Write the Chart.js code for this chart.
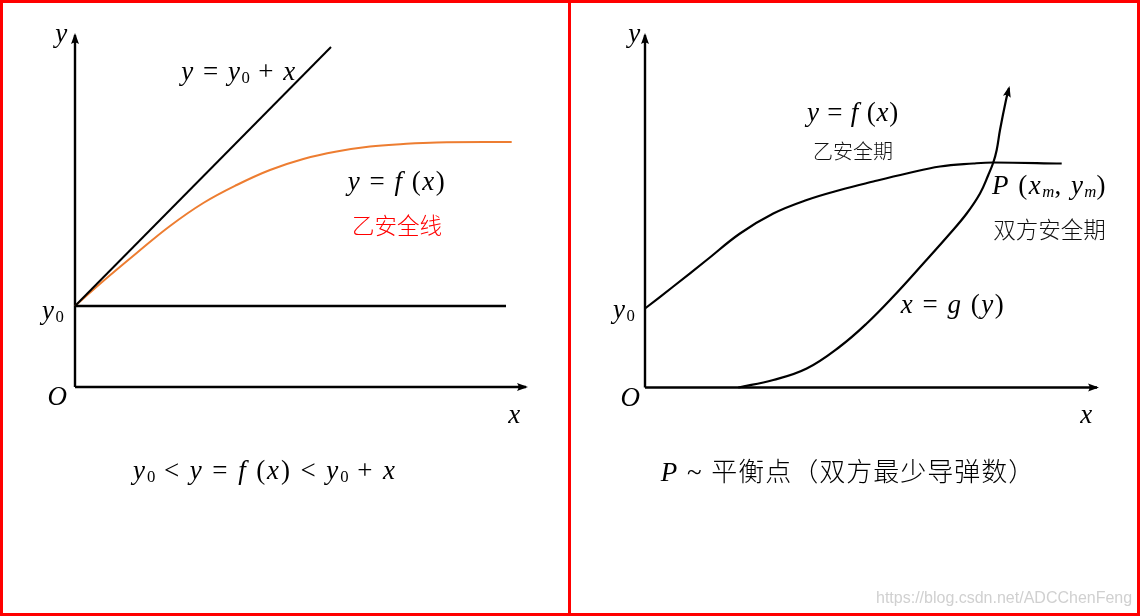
<!DOCTYPE html>
<html><head><meta charset="utf-8">
<script src="https://cdn.jsdelivr.net/npm/chart.js@4.4.1/dist/chart.umd.min.js"></script>
<style>
html,body{margin:0;padding:0;background:#fff;}
#frame{position:relative;width:1140px;height:616px;background:#fff;overflow:hidden;}
.bd{position:absolute;background:#ff0000;}
.panel{position:absolute;top:3px;height:610px;}
.panel canvas{position:absolute;left:0;top:0;}
.lbl{position:absolute;white-space:nowrap;line-height:1;transform:translate(-50%,-50%);color:#000;}
.m{font-family:"Liberation Serif","DejaVu Serif",serif;font-size:27px;letter-spacing:1.5px;}
.m i{font-style:italic;}
.m sub{font-size:62%;vertical-align:-0.22em;line-height:0;letter-spacing:0;}
.cn{font-family:"Noto Sans CJK SC","Noto Sans",sans-serif;font-weight:300;letter-spacing:0;}
#wm{position:absolute;left:876px;top:589px;font-family:"Liberation Sans",Arial,sans-serif;font-size:16px;color:#d0d0d0;white-space:nowrap;}
</style></head>
<body>
<div id="frame">
  <div class="panel" id="pL" style="left:3px;width:565px;"><canvas id="cL" width="565" height="610"></canvas></div>
  <div class="panel" id="pR" style="left:571px;width:566px;"><canvas id="cR" width="566" height="610"></canvas></div>
  <div class="bd" style="left:0;top:0;width:1140px;height:3px"></div>
  <div class="bd" style="left:0;top:613px;width:1140px;height:3px"></div>
  <div class="bd" style="left:0;top:0;width:3px;height:616px"></div>
  <div class="bd" style="left:1137px;top:0;width:3px;height:616px"></div>
  <div class="bd" style="left:568px;top:0;width:3px;height:616px"></div>
  <div id="wm">https://blog.csdn.net/ADCChenFeng</div>
</div>
<script>
// ---------- data (diagram units, origin O = (0,0)) ----------
// Left panel
const leftAxisX = [[0, 0], [45.1, 0]];
const leftAxisY = [[0, 0], [0, 35.2]];
const leftY0 = 8.1;
const leftBaselineEnd = 43.1;            // y = y0 horizontal line end
const leftUpperX = [0, 25.6];            // y = y0 + x
const leftUpperY = [8.1, 34.0];
const leftCurveX = [0, 2.83, 6.17, 9.5, 12.83, 16.17, 19.5, 22.83, 26.17, 29.5, 32.83, 36.17, 43.67];
const leftCurveY = [8.1, 10.6, 13.4, 16.1, 18.4, 20.2, 21.7, 22.8, 23.55, 24.05, 24.3, 24.45, 24.5];

// Right panel
const rightAxisX = [[0, 0], [45.2, 0]];
const rightAxisY = [[0, 0], [0, 35.25]];
const rightFX = [0, 2.83, 6.17, 9.5, 12.83, 16.17, 19.5, 22.83, 26.17, 29.5, 32.83, 34.83, 41.67];
const rightFY = [7.9, 10.1, 12.75, 15.4, 17.4, 18.75, 19.75, 20.6, 21.4, 22.1, 22.4, 22.5, 22.4];
const rightGX = [9.33, 12.83, 16.17, 19.5, 22.17, 24.83, 27.83, 30.5, 32.17, 33.5, 34.33, 34.83, 35.17, 35.5, 36.1, 36.4];
const rightGY = [0.0, 0.75, 1.9, 4.1, 6.4, 9.1, 12.4, 15.4, 17.4, 19.4, 21.25, 22.5, 23.75, 25.75, 28.75, 29.95];

// Text labels
const leftLabels = [
  { html: '<i>y</i>', x: -1.3, y: 35.4, cls: 'm' },
  { html: '<i>O</i>', x: -1.7, y: -0.9, cls: 'm' },
  { html: '<i>x</i>', x: 44.0, y: -2.7, cls: 'm' },
  { html: '<i>y</i><sub>0</sub>', x: -2.2, y: 7.7, cls: 'm' },
  { html: '<i>y</i> = <i>y</i><sub>0</sub> + <i>x</i>', x: 16.4, y: 31.6, cls: 'm' },
  { html: '<i>y</i> = <i>f</i> (<i>x</i>)', x: 32.2, y: 20.6, cls: 'm' },
  { html: '乙安全线', x: 32.2, y: 16.3, cls: 'cn', style: 'font-size:22.5px;color:#ff0000;' },
  { html: '<i>y</i><sub>0</sub> &lt; <i>y</i> = <i>f</i> (<i>x</i>) &lt; <i>y</i><sub>0</sub> + <i>x</i>', x: 19.0, y: -8.3, cls: 'm', style: 'letter-spacing:1.9px;' }
];
const rightLabels = [
  { html: '<i>y</i>', x: -1.0, y: 35.5, cls: 'm' },
  { html: '<i>O</i>', x: -1.4, y: -0.9, cls: 'm' },
  { html: '<i>x</i>', x: 44.2, y: -2.6, cls: 'm' },
  { html: '<i>y</i><sub>0</sub>', x: -2.1, y: 7.9, cls: 'm' },
  { html: '<i>y</i> = <i>f</i> (<i>x</i>)', x: 20.8, y: 27.6, cls: 'm', style: 'letter-spacing:0.8px;' },
  { html: '乙安全期', x: 20.8, y: 23.7, cls: 'cn', style: 'font-size:20px;color:#111;' },
  { html: '<i>P</i> (<i>x</i><sub><i>m</i></sub>, <i>y</i><sub><i>m</i></sub>)', x: 40.45, y: 20.3, cls: 'm' },
  { html: '双方安全期', x: 40.45, y: 16.0, cls: 'cn', style: 'font-size:22.5px;color:#111;' },
  { html: '<i>x</i> = <i>g</i> (<i>y</i>)', x: 30.8, y: 8.4, cls: 'm' },
  { html: '<i>P</i> ~ <span class="cn" style="font-size:26px;letter-spacing:1px">平衡点（双方最少导弹数）</span>', x: 20.3, y: -8.3, cls: 'm' }
];

// ---------- helpers ----------
const PX_PER_UNIT = 10;
const PANEL_TOP = 3, PANEL_H = 610;
const pts = (xs, ys) => xs.map((x, i) => ({ x: x, y: ys[i] }));
const pairs = a => a.map(p => ({ x: p[0], y: p[1] }));

const arrowPlugin = {
  id: 'arrowHeads',
  afterDatasetsDraw(chart) {
    const ctx = chart.ctx;
    chart.data.datasets.forEach((ds, i) => {
      if (!ds.arrow) return;
      const meta = chart.getDatasetMeta(i);
      const n = meta.data.length;
      const end = meta.data[n - 1];
      let fx = meta.data[n - 2].x, fy = meta.data[n - 2].y;
      if (end.cp1x !== undefined && (Math.abs(end.cp1x - end.x) + Math.abs(end.cp1y - end.y)) > 0.5) {
        fx = end.cp1x; fy = end.cp1y;
      }
      const ang = Math.atan2(end.y - fy, end.x - fx);
      const L = 9, W = 4;
      ctx.save();
      ctx.fillStyle = ds.borderColor;
      ctx.translate(end.x, end.y);
      ctx.rotate(ang);
      ctx.beginPath();
      ctx.moveTo(2, 0);
      ctx.lineTo(-L, -W);
      ctx.quadraticCurveTo(-L + 3, 0, -L, W);
      ctx.closePath();
      ctx.fill();
      ctx.restore();
    });
  }
};

const labelPlugin = {
  id: 'htmlLabels',
  afterRender(chart) {
    const opts = chart.options.plugins.htmlLabels;
    if (!opts || !opts.items) return;
    const host = chart.canvas.parentNode;
    opts.items.forEach((it, k) => {
      let el = host.querySelector('[data-k="' + k + '"]');
      if (!el) {
        el = document.createElement('div');
        el.className = 'lbl ' + it.cls;
        el.dataset.k = k;
        if (it.style) el.style.cssText = it.style;
        el.innerHTML = it.html;
        host.appendChild(el);
      }
      el.style.left = chart.scales.x.getPixelForValue(it.x) + 'px';
      el.style.top = chart.scales.y.getPixelForValue(it.y) + 'px';
    });
  }
};

function line(data, color, width, extra) {
  return Object.assign({
    data: data, borderColor: color, backgroundColor: color, borderWidth: width,
    pointRadius: 0, showLine: true, fill: false, tension: 0, borderCapStyle: 'butt'
  }, extra || {});
}

function makePanel(canvasId, panelLeft, panelW, originX, originY, datasets, labels) {
  const xmin = -(originX - panelLeft) / PX_PER_UNIT;
  const xmax = (panelLeft + panelW - originX) / PX_PER_UNIT;
  const ymin = -(PANEL_TOP + PANEL_H - originY) / PX_PER_UNIT;
  const ymax = (originY - PANEL_TOP) / PX_PER_UNIT;
  return new Chart(document.getElementById(canvasId), {
    type: 'scatter',
    data: { datasets: datasets },
    options: {
      responsive: false, animation: false, devicePixelRatio: 1,
      layout: { padding: 0 },
      events: [],
      scales: {
        x: { type: 'linear', display: false, min: xmin, max: xmax },
        y: { type: 'linear', display: false, min: ymin, max: ymax }
      },
      plugins: { legend: { display: false }, tooltip: { enabled: false }, htmlLabels: { items: labels } }
    },
    plugins: [arrowPlugin, labelPlugin]
  });
}

// Left panel
makePanel('cL', 3, 565, 75, 387, [
  line(pts([0, leftBaselineEnd], [leftY0, leftY0]), '#000', 2.4),
  line(pts(leftUpperX, leftUpperY), '#000', 2),
  line(pts(leftCurveX, leftCurveY), '#ED7D31', 2, { tension: 0.4 }),
  line(pairs(leftAxisY), '#000', 2.4, { arrow: true }),
  line(pairs(leftAxisX), '#000', 2.6, { arrow: true })
], leftLabels);

// Right panel
makePanel('cR', 571, 566, 645, 387.5, [
  line(pts(rightFX, rightFY), '#000', 2.2, { tension: 0.4 }),
  line(pts(rightGX, rightGY), '#000', 2.2, { tension: 0.4, arrow: true }),
  line(pairs(rightAxisY), '#000', 2.4, { arrow: true }),
  line(pairs(rightAxisX), '#000', 2.6, { arrow: true })
], rightLabels);
</script>
</body></html>
